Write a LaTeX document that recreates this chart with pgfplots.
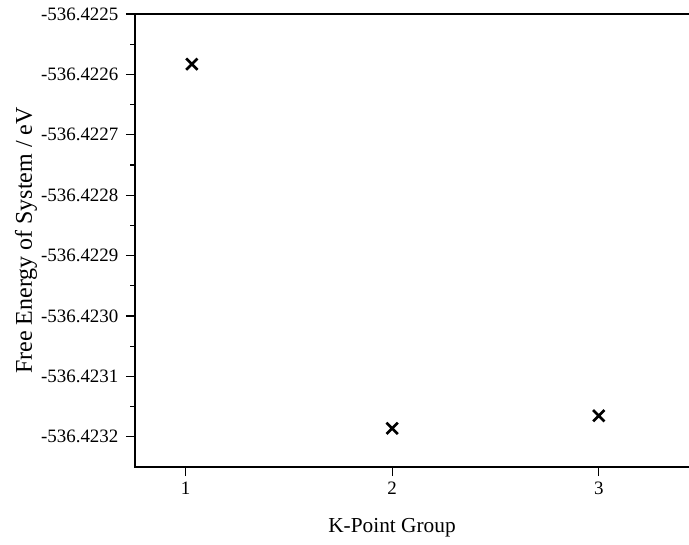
\documentclass[border=0pt]{standalone}
\usepackage{fontspec}
\setmainfont{Liberation Serif}
\usepackage{pgfplots}
\pgfplotsset{compat=1.18}
\begin{document}
\begin{tikzpicture}
\begin{axis}[
  scale only axis,
  width=425.3pt, height=339.75pt,
  xmin=0.755, xmax=3.5,
  % y is plotted as (E + 536.4225 eV) in units of 1e-4 eV
  ymin=-7.5, ymax=0,
  ytick={0,-1,-2,-3,-4,-5,-6,-7},
  yticklabels={{-536.4225},{-536.4226},{-536.4227},{-536.4228},{-536.4229},{-536.4230},{-536.4231},{-536.4232}},
  minor y tick num=1,
  xtick={1,2,3}, xticklabels={1,2,3},
  xtick pos=bottom, ytick pos=left,
  tick align=outside,
  major tick length=6.75pt, minor tick length=3.4pt,
  every tick/.style={black, line width=1pt},
  axis line style={line width=1pt},
  /pgf/number format/assume math mode=true,
  yticklabel style={font=\fontsize{14.2}{16}\selectfont, inner sep=0pt, anchor=east, xshift=-5.5pt},
  xticklabel style={font=\fontsize{14.2}{16}\selectfont, inner sep=0pt, anchor=north, yshift=-4.5pt},
  xlabel={K-Point Group},
  ylabel={Free Energy of System / eV},
  xlabel style={font=\fontsize{16}{19}\selectfont, inner sep=0pt, at={(axis description cs:0.4533,0)}, anchor=north, yshift=-38pt},
  ylabel style={font=\fontsize{18}{21}\selectfont, inner sep=0pt, at={(axis description cs:-0.1817,0.5)}, rotate=0, anchor=base},
]
% energies: -536.422583, -536.423186, -536.423165 eV
\addplot[only marks, mark=x, mark size=6pt, mark options={line width=2pt, black}]
  coordinates {(1.03,-0.83) (2,-6.86) (3,-6.65)};
\coordinate (SW) at (rel axis cs:0,0);
\end{axis}
\pgfresetboundingbox
\path[use as bounding box] ([shift={(-101.25pt,-57.75pt)}]SW) rectangle ([shift={(415.5pt,350.25pt)}]SW);
\end{tikzpicture}
\end{document}
